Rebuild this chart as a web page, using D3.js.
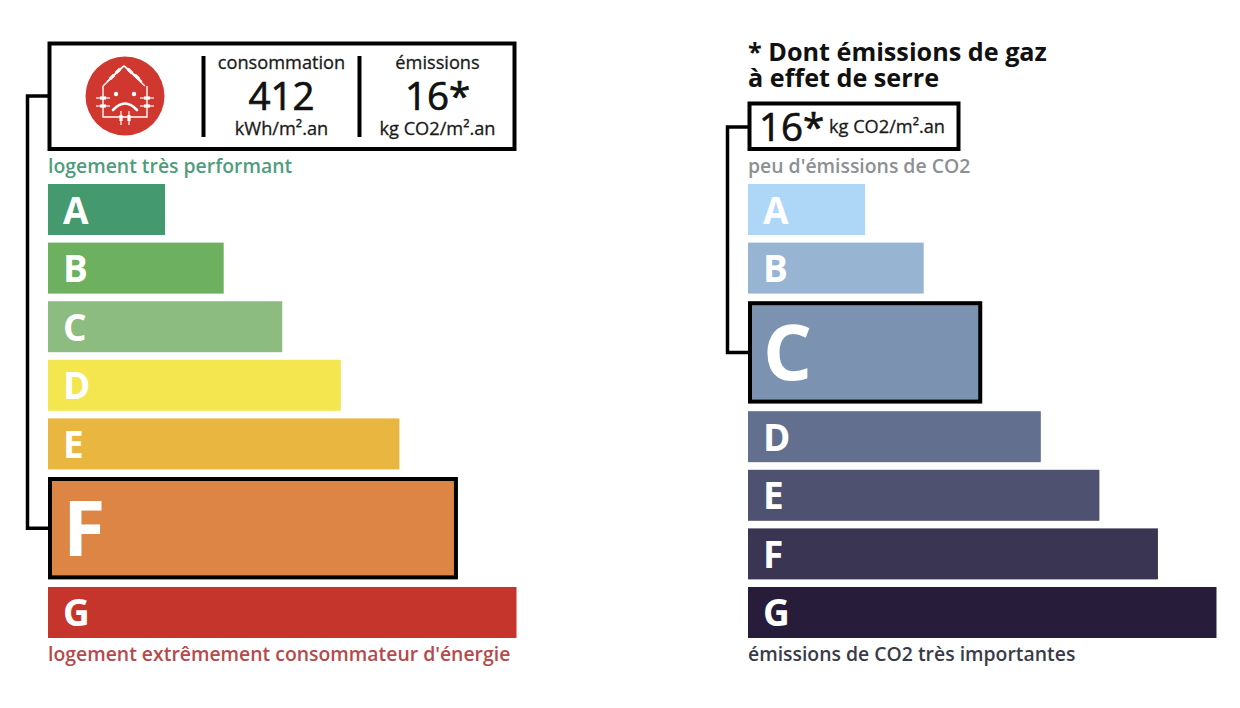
<!DOCTYPE html>
<html><head><meta charset="utf-8">
<script src="https://cdnjs.cloudflare.com/ajax/libs/d3/7.8.5/d3.min.js"></script>
<style>html,body{margin:0;padding:0;background:#fff}svg{display:block}text{font-family:"Open Sans",sans-serif}</style>
</head><body><svg id="c" width="1240" height="708"></svg>
<script>
const classes = ["A","B","C","D","E","F","G"];
const barUnits = [2,3,4,5,6,7,8];
const energyColors = ["#44996f","#6cb060","#8dbc80","#f3e64f","#e9b640","#dc8544","#c5352b"];
const climateColors = ["#aed6f6","#97b5d3","#7b93b1","#636f8f","#4e5170","#3a3552","#271c39"];
const energyClass = "F";
const climateClass = "C";
const energyTop = "logement très performant";
const energyBottom = "logement extrêmement consommateur d'énergie";
const climateTop = "peu d'émissions de CO2";
const climateBottom = "émissions de CO2 très importantes";
const noteLines = ["* Dont émissions de gaz","à effet de serre"];

const svg = d3.select("#c");
const x = d3.scaleLinear().domain([0,8]).range([0,468.5]);
const y = d3.scaleLinear().domain([0,1]).range([184,242.6]);
const ROW = 51, EXTRA = 0.877;

function ladder(x0, colors, active, linkX, linkTopY) {
  const g = svg.append("g");
  let u = 0;
  classes.forEach((c,i)=>{
    const on = c===active;
    const top = y(u);
    const h = on ? ROW + EXTRA*(y(1)-y(0)) : ROW;
    const w = x(barUnits[i]);
    if(on){
      g.append("rect").attr("x",x0+2).attr("y",top+2).attr("width",w-4).attr("height",h-4)
       .attr("fill",colors[i]).attr("stroke","#000").attr("stroke-width",4);
      g.append("path").attr("fill","none").attr("stroke","#000").attr("stroke-width",3.5)
       .attr("d",`M${x0},${linkTopY}H${linkX}V${top+h/2}H${x0}`);
    } else {
      g.append("rect").attr("x",x0).attr("y",top).attr("width",w).attr("height",h).attr("fill",colors[i]);
    }
    g.append("text").attr("x",x0+15).attr("y",top+h/2+(on?28:14))
      .attr("font-size",on?77:37).attr("font-weight",700).attr("fill","#fff").text(c);
    u += on ? 1+EXTRA : 1;
  });
}

function label(xp,yp,t,size,fill,weight,anchor,stroke){
  const n = svg.append("text").attr("x",xp).attr("y",yp).attr("font-size",size).attr("fill",fill)
    .attr("font-weight",weight||400).attr("text-anchor",anchor||"start").text(t);
  if(stroke) n.attr("stroke",fill).attr("stroke-width",stroke);
  return n;
}

ladder(48, energyColors, energyClass, 27.5, 96);
ladder(748, climateColors, climateClass, 727.5, 127);

svg.append("rect").attr("x",49.5).attr("y",43.5).attr("width",465).attr("height",105.5)
  .attr("fill","#fff").attr("stroke","#000").attr("stroke-width",4);
[203.5,359.5].forEach(v=>svg.append("line").attr("x1",v).attr("x2",v).attr("y1",56).attr("y2",137)
  .attr("stroke","#000").attr("stroke-width",4));
label(281.5,69,"consommation",18.2,"#1a1a1a",400,"middle",0.3);
label(281.5,110,"412",38.5,"#111",400,"middle",0.7);
label(281.5,135,"kWh/m².an",18.2,"#1a1a1a",400,"middle",0.3);
label(437.5,69,"émissions",18.2,"#1a1a1a",400,"middle",0.3);
label(437.5,110,"16*",38.5,"#111",400,"middle",0.7);
label(437.5,135,"kg CO2/m².an",18.2,"#1a1a1a",400,"middle",0.3);

const icon = svg.append("g").attr("transform","translate(125,96)");
icon.append("circle").attr("r",39.5).attr("fill","#d0382f");
icon.append("path").attr("fill","none").attr("stroke","#fff").attr("stroke-width",1.4)
  .attr("d","M-22,-10L-1,-30L20,-10M-22,-10V21H22V-10");
const pins = [[-13,-19,-43],[-7,-25,-43],[5,-25,43],[12,-19,43],[-22,2,0],[22,2,0],[-22,10,0],[22,10,0],[-4,22,90],[4,22,90]];
pins.forEach(([a,b,r])=>{
  const p = icon.append("g").attr("transform",`translate(${a},${b}) rotate(${r})`);
  p.append("path").attr("fill","none").attr("stroke","#fff").attr("stroke-width",3.2).attr("d","M-3,0H3");
  p.append("path").attr("fill","none").attr("stroke","#fff").attr("stroke-width",1.2).attr("d","M-7,0H7");
});
icon.append("circle").attr("cx",-9).attr("cy",-2).attr("r",2.2).attr("fill","#fff");
icon.append("circle").attr("cx",9).attr("cy",-2).attr("r",2.2).attr("fill","#fff");
icon.append("path").attr("fill","none").attr("stroke","#fff").attr("stroke-width",2.6).attr("stroke-linecap","round")
  .attr("d","M-12,14Q0,1 12,14");

label(48,173,energyTop,19.4,"#4f9d7c",600);
label(48,660.5,energyBottom,19.4,"#b6494b",600);

noteLines.forEach((t,i)=>label(748,61+i*26,t,25.2,"#111",700));
svg.append("rect").attr("x",749.5).attr("y",103.5).attr("width",209).attr("height",45.5)
  .attr("fill","#fff").attr("stroke","#000").attr("stroke-width",4);
label(759,141,"16*",38.5,"#111",400,"start",0.7);
label(829,133,"kg CO2/m².an",18.2,"#1a1a1a",400,"start",0.3);
label(748,173,climateTop,19.4,"#8c8f94",600);
label(748,660.5,climateBottom,19.4,"#3a3a48",600);
</script></body></html>
